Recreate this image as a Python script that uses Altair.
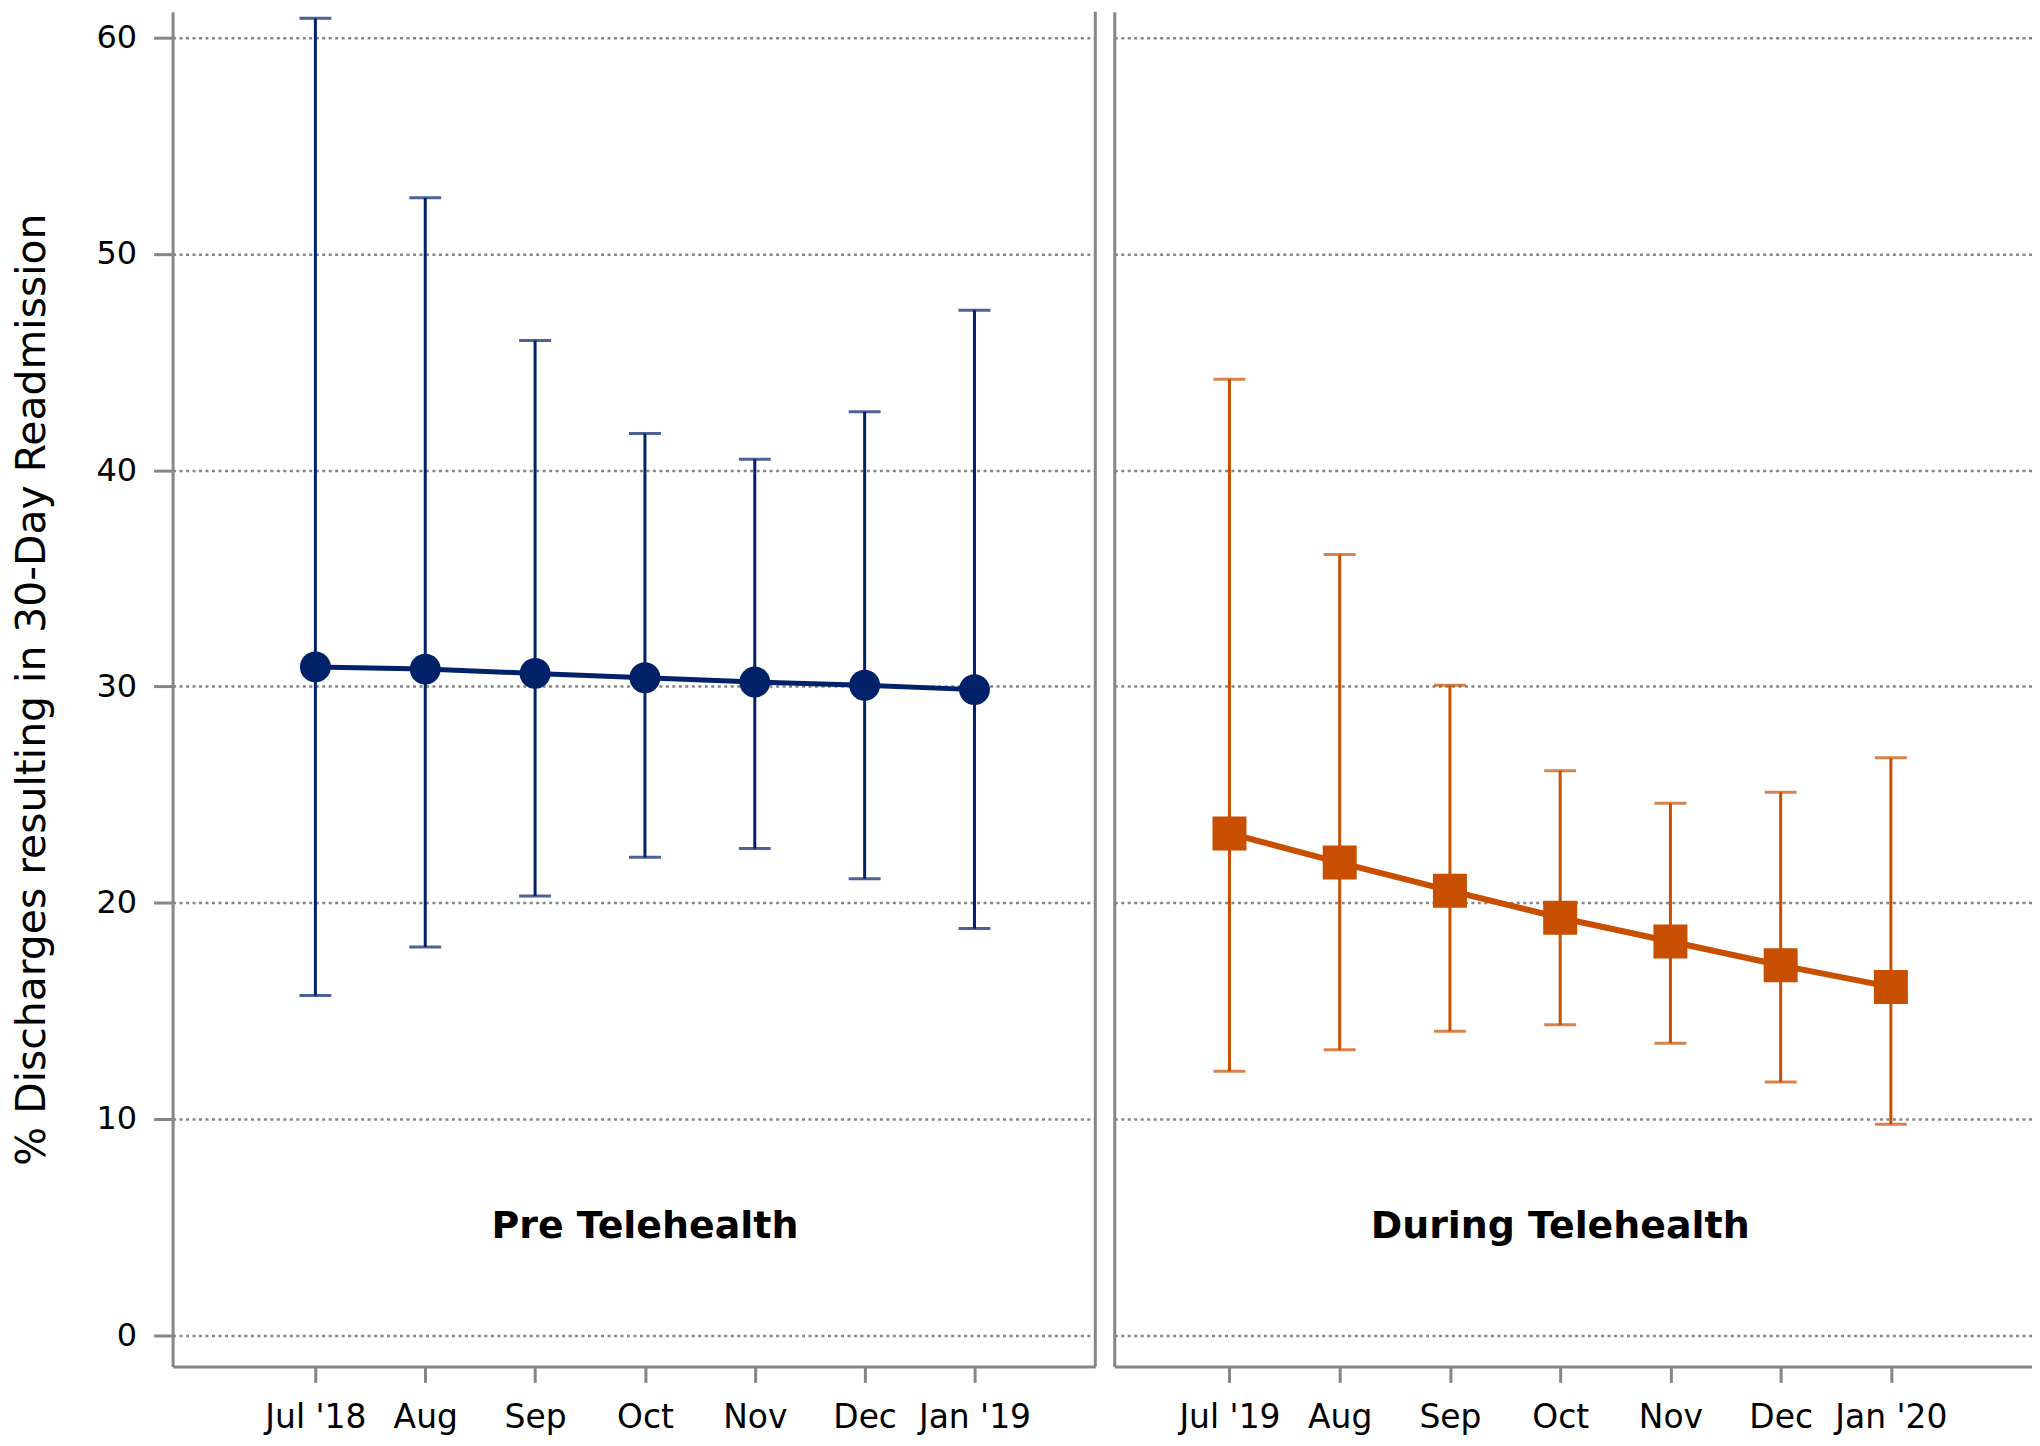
import json
import altair as alt
import pandas as pd

# ---------------- data ----------------
pre_months = ["Jul '18", "Aug", "Sep", "Oct", "Nov", "Dec", "Jan '19"]
pre_rate = [30.9, 30.8, 30.6, 30.4, 30.2, 30.05, 29.85]
pre_lower = [15.7, 17.95, 20.3, 22.1, 22.5, 21.1, 18.8]
pre_upper = [60.9, 52.6, 46.0, 41.7, 40.5, 42.7, 47.4]

during_months = ["Jul '19", "Aug", "Sep", "Oct", "Nov", "Dec", "Jan '20"]
during_rate = [23.2, 21.85, 20.55, 19.3, 18.2, 17.1, 16.1]
during_lower = [12.2, 13.2, 14.05, 14.35, 13.5, 11.7, 9.75]
during_upper = [44.2, 36.1, 30.05, 26.1, 24.6, 25.1, 26.7]

panel_labels = ["Pre Telehealth", "During Telehealth"]
y_ticks = [0, 10, 20, 30, 40, 50, 60]
y_title = "% Discharges resulting in 30-Day Readmission"

# ---------------- styling ----------------
FONT = "DejaVu Sans"
GRAY = "#868686"
NAVY = "#012169"
ORANGE = "#C84E00"
Y_MIN, Y_MAX = -1.45, 61.20
PRE_XDOM = [-1.30, 7.10]
DUR_XDOM = [-1.045, 7.28]
PLOT_H = 1358
PRE_W = 925
DUR_W = 920
LABEL_Y = 5


def make_df(months, rate, lo, hi):
    return pd.DataFrame({
        "i": list(range(len(months))),
        "month": months,
        "rate": rate,
        "lo": lo,
        "hi": hi,
    })


def panel(df, months, color, shape, size, line_w, xdom, yaxis, label, width, right_break):
    labels_js = json.dumps(months)
    xaxis = alt.Axis(
        values=list(range(len(months))),
        labelExpr=f"{labels_js}[datum.value]",
        title=None, grid=False,
        tickSize=16, tickWidth=3, tickColor=GRAY,
        domainColor=GRAY, domainWidth=3,
        labelFont=FONT, labelFontSize=33, labelColor="black", labelPadding=19,
    )
    xscale = alt.Scale(domain=xdom, nice=False, zero=False)
    yscale = alt.Scale(domain=[Y_MIN, Y_MAX], nice=False, zero=False)
    X = alt.X("i:Q", scale=xscale, axis=xaxis)

    base = alt.Chart(df)
    rules = base.mark_rule(color=color, strokeWidth=3).encode(
        x=X, y=alt.Y("lo:Q", scale=yscale, axis=yaxis), y2="hi:Q")
    cap_lo = base.mark_tick(color=color, orient="horizontal", size=32, thickness=3).encode(
        x=X, y=alt.Y("lo:Q", scale=yscale, axis=yaxis))
    cap_hi = base.mark_tick(color=color, orient="horizontal", size=32, thickness=3).encode(
        x=X, y=alt.Y("hi:Q", scale=yscale, axis=yaxis))
    line = base.mark_line(color=color, strokeWidth=line_w).encode(
        x=X, y=alt.Y("rate:Q", scale=yscale, axis=yaxis))
    pts = base.mark_point(color=color, shape=shape, size=size, filled=True, opacity=1).encode(
        x=X, y=alt.Y("rate:Q", scale=yscale, axis=yaxis))

    lab_df = pd.DataFrame({"i": [(len(months) - 1) / 2], "y": [LABEL_Y], "label": [label]})
    txt = alt.Chart(lab_df).mark_text(
        font=FONT, fontSize=38, fontWeight="bold", color="black",
        align="center", baseline="middle").encode(
        x=X, y=alt.Y("y:Q", scale=yscale, axis=yaxis), text="label:N")

    layers = [rules, cap_lo, cap_hi, line, pts, txt]
    if right_break:
        brk_df = pd.DataFrame({"i": [xdom[1]], "y0": [Y_MIN], "y1": [Y_MAX]})
        brk = alt.Chart(brk_df).mark_rule(color=GRAY, strokeWidth=3).encode(
            x=X, y=alt.Y("y0:Q", scale=yscale, axis=yaxis), y2="y1:Q")
        layers.append(brk)
    return alt.layer(*layers).properties(width=width, height=PLOT_H)


pre_axis = alt.Axis(
    values=y_ticks, format="d",
    title=y_title, titleFont=FONT, titleFontSize=41, titleFontWeight="normal",
    titleColor="black", titlePadding=43,
    labelFont=FONT, labelFontSize=32, labelColor="black", labelPadding=17,
    tickSize=19, tickWidth=3, tickColor=GRAY,
    domainColor=GRAY, domainWidth=3,
    grid=True, gridColor=GRAY, gridDash=[3, 3.5], gridWidth=2.5,
)
dur_axis = alt.Axis(
    values=y_ticks, labels=False, ticks=False, title=None,
    domainColor=GRAY, domainWidth=3,
    grid=True, gridColor=GRAY, gridDash=[3, 3.5], gridWidth=2.5,
)

pre_chart = panel(make_df(pre_months, pre_rate, pre_lower, pre_upper), pre_months,
                  NAVY, "circle", 960, 5, PRE_XDOM, pre_axis, panel_labels[0], PRE_W, True)
dur_chart = panel(make_df(during_months, during_rate, during_lower, during_upper), during_months,
                  ORANGE, "square", 1160, 6, DUR_XDOM, dur_axis, panel_labels[1], DUR_W, False)

chart = alt.hconcat(pre_chart, dur_chart, spacing=17).properties(
    padding={"left": 3, "top": 0, "right": 0, "bottom": 0}, background="white"
).configure_view(stroke=None)

chart.save("out.html", embed_options={"renderer": "svg", "actions": False})
